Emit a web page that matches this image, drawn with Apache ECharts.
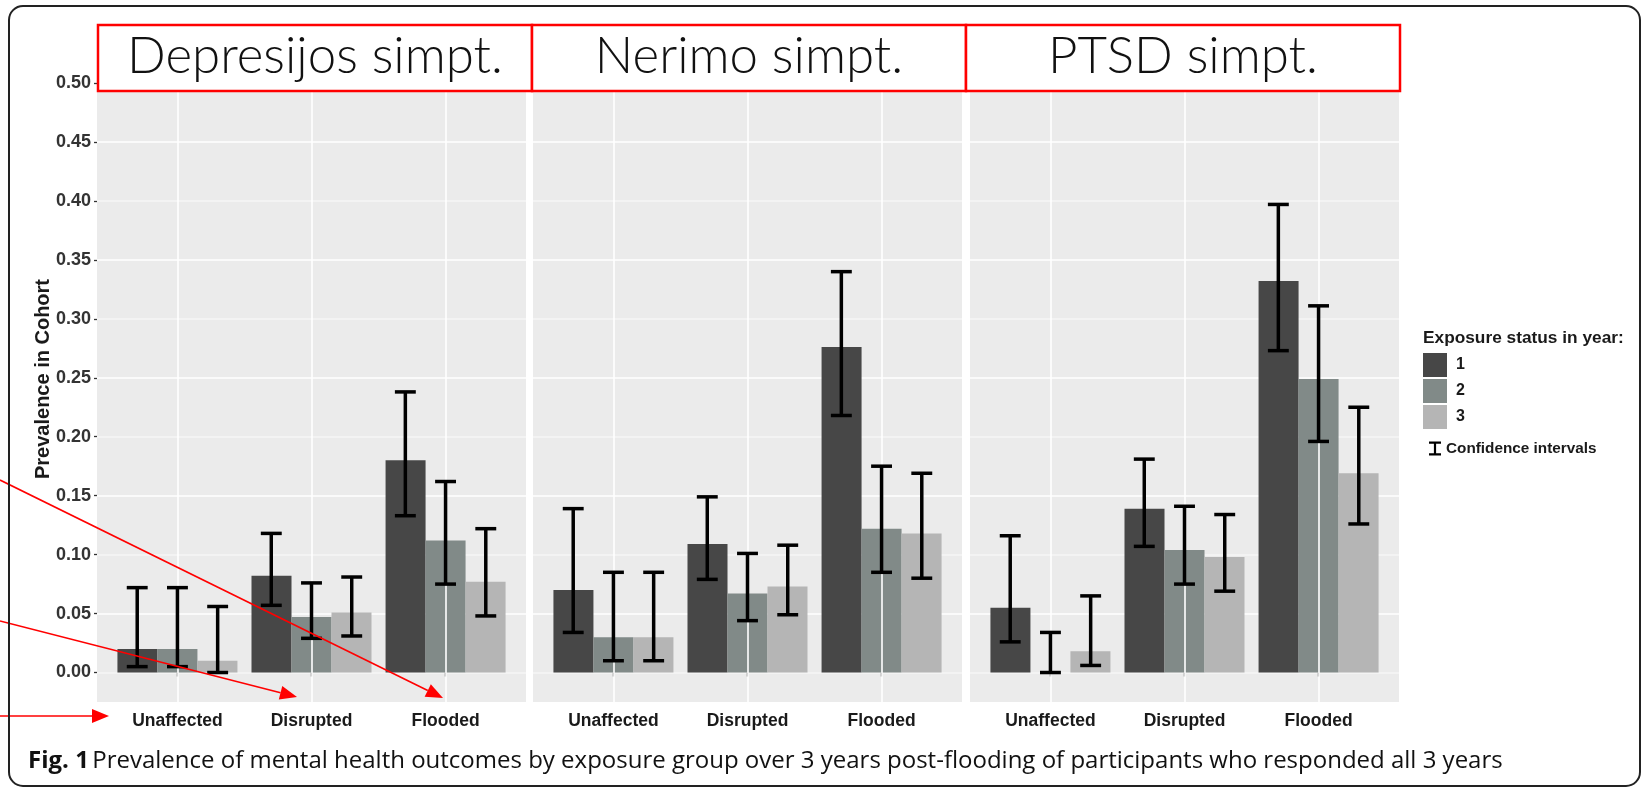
<!DOCTYPE html>
<html><head><meta charset="utf-8">
<script src="https://cdn.jsdelivr.net/npm/echarts@6/dist/echarts.min.js"></script>
<style>html,body{margin:0;padding:0;background:#fff}#chart{width:1645px;height:789px}</style>
</head><body><div id="chart"></div>
<script>
const categories = ['Unaffected', 'Disrupted', 'Flooded'];
const facetTitles = ['Depresijos simpt.', 'Nerimo simpt.', 'PTSD simpt.'];
const years = ['1', '2', '3'];
const yTickLabels = ['0.00', '0.05', '0.10', '0.15', '0.20', '0.25', '0.30', '0.35', '0.40', '0.45', '0.50'];
// rows = exposure year 1..3, columns = categories
const depression     = [[0.020, 0.082, 0.180], [0.020, 0.047, 0.112], [0.010, 0.051, 0.077]];
const depressionLow  = [[0.005, 0.057, 0.133], [0.005, 0.029, 0.075], [0.000, 0.031, 0.048]];
const depressionHigh = [[0.072, 0.118, 0.238], [0.072, 0.076, 0.162], [0.056, 0.081, 0.122]];
const anxiety        = [[0.070, 0.109, 0.276], [0.030, 0.067, 0.122], [0.030, 0.073, 0.118]];
const anxietyLow     = [[0.034, 0.079, 0.218], [0.010, 0.044, 0.085], [0.010, 0.049, 0.080]];
const anxietyHigh    = [[0.139, 0.149, 0.340], [0.085, 0.101, 0.175], [0.085, 0.108, 0.169]];
const ptsd           = [[0.055, 0.139, 0.332], [0.000, 0.104, 0.249], [0.018, 0.098, 0.169]];
const ptsdLow        = [[0.026, 0.107, 0.273], [0.000, 0.075, 0.196], [0.006, 0.069, 0.126]];
const ptsdHigh       = [[0.116, 0.181, 0.397], [0.034, 0.141, 0.311], [0.065, 0.134, 0.225]];

const facets = [
  { mean: depression, low: depressionLow, high: depressionHigh },
  { mean: anxiety, low: anxietyLow, high: anxietyHigh },
  { mean: ptsd, low: ptsdLow, high: ptsdHigh }
];
const yearColors = ['#474747', '#818a88', '#b5b5b5'];
const gridLefts = [97, 533, 970];
const gridWidth = 429;
const gridTop = 83, gridHeight = 619;
const axisFont = 'Liberation Sans, Arial, sans-serif';
const catPos = categories.map((c, i) => i + 1);
const yTickValues = yTickLabels.map(Number);

const chart = echarts.init(document.getElementById('chart'), null, { renderer: 'canvas' });

const grids = [], xAxes = [], yAxes = [], series = [];
facets.forEach((f, p) => {
  grids.push({ left: gridLefts[p], top: gridTop, width: gridWidth, height: gridHeight,
    show: true, backgroundColor: '#ebebeb', borderWidth: 0 });
  xAxes.push({ type: 'value', gridIndex: p, min: 0.4, max: 3.6,
    axisLine: { show: false }, splitLine: { show: false },
    axisTick: { show: true, length: 4, lineStyle: { color: '#333', width: 1.3 }, customValues: catPos },
    axisLabel: { show: true, customValues: catPos, margin: 10, fontFamily: axisFont, fontWeight: 'bold',
      fontSize: 17.5, color: '#1a1a1a',
      formatter: v => { const i = Math.round(v) - 1; return Math.abs(v - Math.round(v)) < 1e-6 && categories[i] ? categories[i] : ''; } }
  });
  yAxes.push({ type: 'value', gridIndex: p, min: -0.025, max: 0.5, interval: 0.025,
    axisLine: { show: false },
    axisTick: { show: p === 0, length: 3, lineStyle: { color: '#333', width: 1.3 }, customValues: yTickValues },
    splitLine: { show: true, lineStyle: { color: ['#f6f6f6', '#ffffff'], width: 1.6 } },
    axisLabel: { show: p === 0, customValues: yTickValues, margin: 6, fontFamily: axisFont, fontWeight: 'bold',
      fontSize: 18, color: '#333',
      formatter: v => { const i = Math.round(v * 20); return Math.abs(v * 20 - i) < 1e-6 && yTickLabels[i] ? yTickLabels[i] : ''; } }
  });
  // vertical category gridlines
  series.push({ type: 'line', xAxisIndex: p, yAxisIndex: p, data: [], z: 1, silent: true,
    markLine: { silent: true, symbol: 'none', label: { show: false },
      lineStyle: { color: '#ffffff', width: 1.6, type: 'solid' },
      data: catPos.map(x => ({ xAxis: x })) } });
  years.forEach((yr, k) => {
    series.push({ type: 'bar', name: yr, xAxisIndex: p, yAxisIndex: p, barWidth: 40, barGap: '0%',
      itemStyle: { color: yearColors[k] }, z: 2,
      data: categories.map((c, i) => [catPos[i], f.mean[k][i]]) });
  });
  const eb = [];
  years.forEach((yr, k) => categories.forEach((c, i) => eb.push([catPos[i], f.low[k][i], f.high[k][i], k])));
  series.push({ type: 'custom', name: 'Confidence intervals', xAxisIndex: p, yAxisIndex: p, z: 5,
    itemStyle: { color: '#000' },
    encode: { x: 0, y: [1, 2] }, data: eb,
    renderItem: (params, api) => {
      const x = api.value(0), lo = api.value(1), hi = api.value(2), k = api.value(3);
      const unit = api.size([1, 0])[0];
      const dx = (k - 1) * unit * 0.3;
      const half = unit * 0.078;
      const a = api.coord([x, lo]), b = api.coord([x, hi]);
      const cx = a[0] + dx;
      const st = { stroke: '#000', lineWidth: 3.5 };
      return { type: 'group', children: [
        { type: 'line', shape: { x1: cx, y1: a[1], x2: cx, y2: b[1] }, style: st },
        { type: 'line', shape: { x1: cx - half, y1: a[1], x2: cx + half, y2: a[1] }, style: st },
        { type: 'line', shape: { x1: cx - half, y1: b[1], x2: cx + half, y2: b[1] }, style: st }
      ] };
    }
  });
});

// annotation graphics
const graphics = [];
graphics.push({ type: 'rect', z: 200, shape: { x: 9, y: 6, width: 1631, height: 780, r: 14 },
  style: { fill: 'none', stroke: '#222', lineWidth: 2 } });
const boxLefts = [98, 532, 966];
facetTitles.forEach((t, p) => {
  graphics.push({ type: 'rect', z: 100, shape: { x: boxLefts[p], y: 25, width: 434, height: 66 },
    style: { fill: '#ffffff', stroke: '#ff0000', lineWidth: 2.5 } });
  graphics.push({ type: 'text', z: 101, x: boxLefts[p] + 217, y: 57,
    style: { text: t, fill: '#111', font: '300 51px Lato, "Noto Sans", sans-serif', align: 'center', verticalAlign: 'middle' } });
});
graphics.push({ type: 'text', z: 101, x: 43, y: 379, rotation: Math.PI / 2,
  style: { text: 'Prevalence in Cohort', fill: '#1a1a1a', font: 'bold 20px ' + axisFont, align: 'center', verticalAlign: 'middle' } });
graphics.push({ type: 'text', z: 101, x: 1423, y: 338,
  style: { text: 'Exposure status in year:', fill: '#1a1a1a', font: 'bold 17.3px ' + axisFont, align: 'left', verticalAlign: 'middle' } });
graphics.push({ type: 'text', z: 101, x: 28, y: 761,
  style: { text: '{b|Fig. 1} {r|Prevalence of mental health outcomes by exposure group over 3 years post-flooding of participants who responded all 3 years}',
    verticalAlign: 'middle', align: 'left',
    rich: { b: { fontFamily: '"Open Sans", "Noto Sans", sans-serif', fontWeight: 'bold', fontSize: 24, fill: '#111' },
            r: { fontFamily: '"Open Sans", "Noto Sans", sans-serif', fontWeight: 'normal', fontSize: 24, fill: '#111' } } } });
const arrows = [[[0, 480], [443, 698]], [[0, 621], [297, 697]], [[0, 716], [109, 716]]];
arrows.forEach(([s, e]) => {
  const ang = Math.atan2(e[1] - s[1], e[0] - s[0]);
  const L = 17, W = 7;
  const bx = e[0] - L * Math.cos(ang), by = e[1] - L * Math.sin(ang);
  const nx = -Math.sin(ang) * W, ny = Math.cos(ang) * W;
  graphics.push({ type: 'line', z: 150, shape: { x1: s[0], y1: s[1], x2: bx, y2: by }, style: { stroke: '#ff0000', lineWidth: 1.6 } });
  graphics.push({ type: 'polygon', z: 150, shape: { points: [[e[0], e[1]], [bx + nx, by + ny], [bx - nx, by - ny]] }, style: { fill: '#ff0000' } });
});

chart.setOption({
  animation: false,
  backgroundColor: '#ffffff',
  grid: grids, xAxis: xAxes, yAxis: yAxes, series: series,
  legend: [
    { data: years, orient: 'vertical', left: 1423, top: 353, padding: 0, itemWidth: 24, itemHeight: 24, itemGap: 2,
      icon: 'rect', selectedMode: false,
      textStyle: { fontFamily: axisFont, fontWeight: 'bold', fontSize: 16, color: '#1a1a1a', padding: [0, 0, 0, 4] } },
    { data: [{ name: 'Confidence intervals', icon: 'path://M0,0H12V2.2H7.1V11.8H12V14H0V11.8H4.9V2.2H0Z', itemStyle: { color: '#000' } }],
      orient: 'vertical', left: 1429, top: 441, padding: 0, itemWidth: 12, itemHeight: 14, selectedMode: false,
      textStyle: { fontFamily: axisFont, fontWeight: 'bold', fontSize: 15.3, color: '#1a1a1a', padding: [0, 0, 0, 0] } }
  ],
  graphic: graphics
});
</script></body></html>
